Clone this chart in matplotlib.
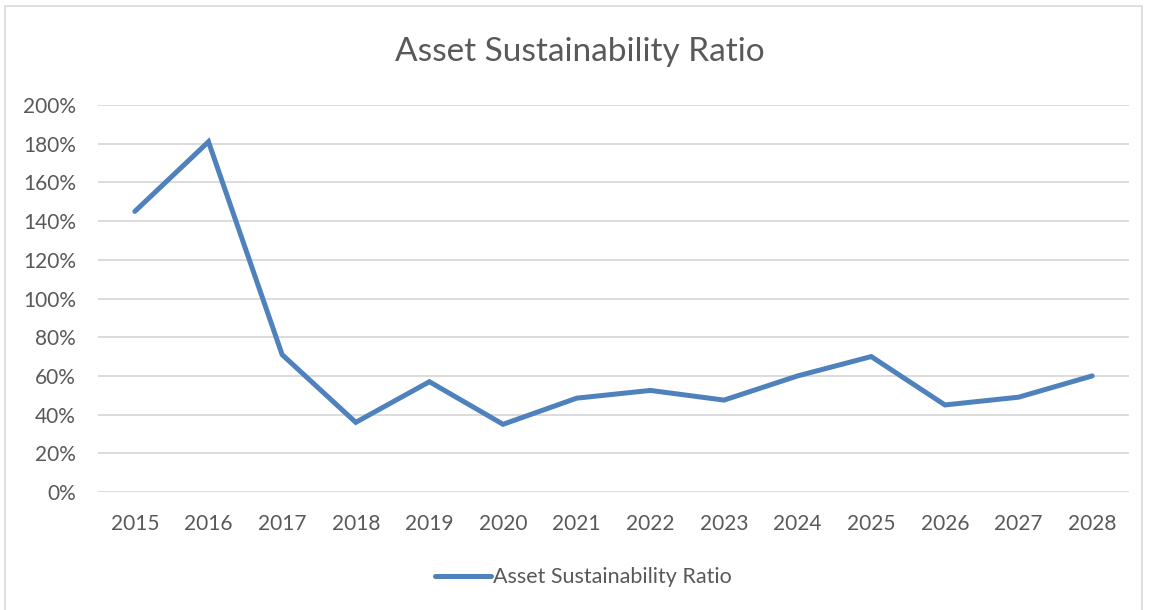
import numpy as np
import matplotlib.pyplot as plt
from matplotlib.ticker import PercentFormatter
from matplotlib.patches import Rectangle

# データ
years = ['2015', '2016', '2017', '2018', '2019', '2020', '2021',
         '2022', '2023', '2024', '2025', '2026', '2027', '2028']
ratio = [145, 181, 71, 36, 57, 35, 48.5, 52.5, 47.5, 60, 70, 45, 49, 60]

plt.rcParams['font.family'] = ['Lato', 'DejaVu Sans']
txt_c = '#595959'

fig = plt.figure(figsize=(11.49, 6.10), dpi=100)
ax = fig.add_axes([0.0853, 0.1934, 0.8973, 0.6345])

x = np.arange(len(years))
ax.plot(x, ratio, color='#4F81BD', lw=3.6, solid_joinstyle='miter',
        solid_capstyle='round', label='Asset Sustainability Ratio')

ax.set_xlim(-0.5, len(years) - 0.5)
ax.set_ylim(0, 200)
ax.set_yticks(np.arange(0, 201, 20))
ax.yaxis.set_major_formatter(PercentFormatter(decimals=0))
ax.set_xticks(x)
ax.set_xticklabels(years)
ax.grid(axis='y', color='#D9D9D9', lw=1.3)
ax.set_axisbelow(True)
for s in ax.spines.values():
    s.set_visible(False)
ax.tick_params(length=0, labelsize=15, colors=txt_c)
ax.tick_params(axis='x', pad=16)
ax.tick_params(axis='y', pad=16)

fig.text(0.505, 0.915, 'Asset Sustainability Ratio', ha='center', va='center',
         fontsize=24, color=txt_c)
fig.legend(loc='center', bbox_to_anchor=(0.508, 0.054), frameon=False,
           fontsize=15.5, labelcolor=txt_c, handlelength=2.6, handletextpad=0.1)

# 外枠
fig.patches.append(Rectangle((0.004, -0.01), 0.99, 1.0, transform=fig.transFigure,
                             fill=False, edgecolor='#D9D9D9', lw=1.2))

fig.savefig('out.png', dpi=100)
